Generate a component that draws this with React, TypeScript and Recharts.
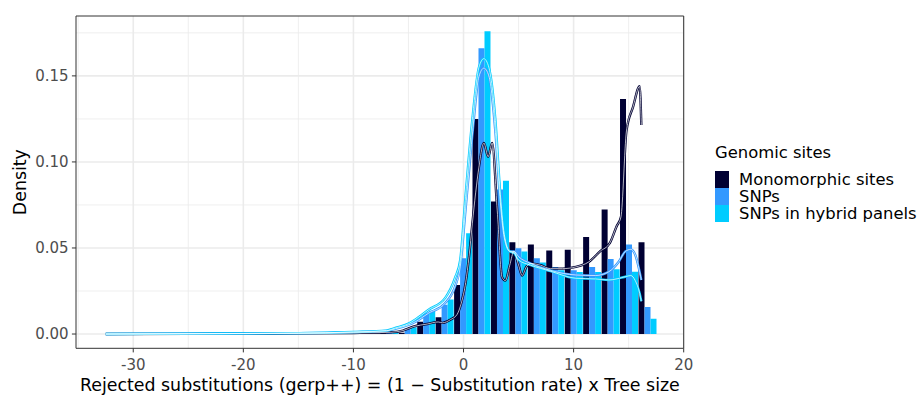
import {
  ComposedChart,
  Bar,
  Line,
  XAxis,
  YAxis,
  CartesianGrid,
  ReferenceArea,
  Legend
} from 'recharts'

const FONT = '"DejaVu Sans", "Liberation Sans", Arial, sans-serif'

// histogram bins (bin centres, width ~1.675)
const binCenters = [-8.40, -6.72, -5.05, -3.37, -1.70, -0.02, 1.65, 3.33, 5.00, 6.68, 8.35, 10.03, 11.70, 13.38, 15.05, 16.73]
const monoHist = [0.0004, 0.0004, 0.0008, 0.0072, 0.0097, 0.0285, 0.125, 0.077, 0.0533, 0.052, 0.0486, 0.049, 0.0564, 0.0723, 0.1365, 0.0533]
const snpHist = [0.0002, 0.001, 0.003, 0.012, 0.017, 0.044, 0.166, 0.084, 0.0498, 0.044, 0.039, 0.037, 0.039, 0.0436, 0.052, 0.0157]
const hybridHist = [0.0002, 0.001, 0.004, 0.0135, 0.020, 0.0585, 0.176, 0.089, 0.0479, 0.0415, 0.037, 0.036, 0.036, 0.0376, 0.0362, 0.0089]

// density curves
const monoDensX = [-32.5, -25, -20, -15, -10, -6.6, -5.5, -4.5, -3.3, -2.3, -1.9, -1.2, -0.6, -0.2, 0.2, 0.5, 0.8, 1.1, 1.4, 1.85, 2.24, 2.6, 3.06, 3.5, 3.8, 4.2, 4.58, 5.0, 5.33, 5.7, 6.1, 7.0, 7.9, 9.0, 10.2, 11.4, 12.4, 13.3, 13.9, 14.3, 14.8, 15.4, 16.0, 16.15]
const monoDensY = [0, 0.0001, 0.0002, 0.0004, 0.0006, 0.001, 0.002, 0.0044, 0.0058, 0.007, 0.0065, 0.0083, 0.0112, 0.018, 0.030, 0.045, 0.064, 0.082, 0.097, 0.111, 0.103, 0.111, 0.072, 0.033, 0.031, 0.040, 0.048, 0.040, 0.034, 0.039, 0.041, 0.040, 0.038, 0.038, 0.039, 0.042, 0.048, 0.053, 0.0625, 0.068, 0.118, 0.132, 0.144, 0.1215]
const snpDensX = [-32.5, -25, -15, -10, -7, -6.2, -4.4, -3.2, -1.66, -0.75, -0.3, 0.18, 0.79, 1.4, 1.85, 2.3, 2.9, 3.3, 3.7, 4.2, 4.6, 5.0, 6.1, 7.9, 10.2, 12, 13.2, 14.1, 14.7, 15.2, 15.6, 16.15]
const snpDensY = [0, 0.0002, 0.0005, 0.0011, 0.0018, 0.003, 0.007, 0.012, 0.018, 0.028, 0.039, 0.072, 0.115, 0.1496, 0.1545, 0.150, 0.117, 0.080, 0.056, 0.048, 0.048, 0.045, 0.041, 0.037, 0.0343, 0.034, 0.0362, 0.042, 0.048, 0.0492, 0.046, 0.0314]
const hybridDensX = [-32.5, -25, -15, -10, -7, -6.2, -5, -4.4, -3.2, -1.66, -0.75, -0.3, 0.18, 0.79, 1.4, 1.85, 2.3, 2.9, 3.3, 3.7, 4.2, 4.6, 5.0, 6.1, 7.9, 10.2, 12, 13.2, 14.7, 15.2, 15.6, 16.0, 16.15]
const hybridDensY = [0, 0.0002, 0.0005, 0.0012, 0.002, 0.0035, 0.006, 0.0083, 0.014, 0.021, 0.033, 0.043, 0.080, 0.124, 0.155, 0.160, 0.155, 0.124, 0.085, 0.058, 0.048, 0.047, 0.043, 0.040, 0.0365, 0.0324, 0.032, 0.0314, 0.0333, 0.034, 0.031, 0.0237, 0.019]

const seriesNames = ['Monomorphic sites', 'SNPs', 'SNPs in hybrid panels']
const seriesColors = ['#000033', '#3399FF', '#00CCFF']

const xTicks = [-30, -20, -10, 0, 10, 20]
const xMinor = [-35, -25, -15, -5, 5, 15]
const yTicks = [0, 0.05, 0.1, 0.15]
const yMinor = [0.025, 0.075, 0.125, 0.175]
const xDomain = [-35.2, 20]
const yDomain = [-0.0083, 0.1848]

const histData = binCenters.map((x, i) => ({
  x,
  mono: monoHist[i],
  snp: snpHist[i],
  hybrid: hybridHist[i],
}))

const toCurve = (xs: number[], ys: number[]) => xs.map((x, i) => ({ x, y: ys[i] }))
const curves = [
  toCurve(monoDensX, monoDensY),
  toCurve(snpDensX, snpDensY),
  toCurve(hybridDensX, hybridDensY),
]

function GenomicLegend() {
  return (
    <div style={{ fontFamily: FONT, color: '#000' }}>
      <div style={{ fontSize: 16.4, lineHeight: '20px', marginBottom: 8 }}>Genomic sites</div>
      {seriesNames.map((name, i) => (
        <div key={name} style={{ display: 'flex', alignItems: 'center', height: 17 }}>
          <span style={{ display: 'inline-block', width: 14, height: 17, background: seriesColors[i] }} />
          <span style={{ marginLeft: 10, fontSize: 16.4, lineHeight: '17px', whiteSpace: 'nowrap' }}>{name}</span>
        </div>
      ))}
    </div>
  )
}

export default function App() {
  const tickStyle = { fill: '#4D4D4D', fontSize: 15, fontFamily: FONT }

  return (
    <div style={{ position: 'absolute', left: 0, top: 0, width: 921, height: 396, background: '#fff' }}>
      <ComposedChart
        width={921}
        height={396}
        data={histData}
        margin={{ top: 16, right: 237.3, bottom: 0, left: 0 }}
        barGap={0}
        barCategoryGap={0}
      >
        <CartesianGrid
          horizontalValues={yMinor}
          verticalValues={xMinor}
          stroke="#EBEBEB"
          strokeWidth={0.8}
        />
        <CartesianGrid
          horizontalValues={yTicks}
          verticalValues={xTicks}
          stroke="#EBEBEB"
          strokeWidth={1.6}
        />
        <XAxis
          dataKey="x"
          type="number"
          domain={xDomain}
          ticks={xTicks}
          allowDataOverflow
          height={47.7}
          axisLine={false}
          tickLine={{ stroke: '#333333' }}
          tickSize={4.1}
          tickMargin={7}
          tick={tickStyle}
          label={{
            value: 'Rejected substitutions (gerp++) = (1 \u2212 Substitution rate) x Tree size',
            position: 'insideBottom',
            offset: 5,
            style: { fontSize: 17.4, fill: '#000', fontFamily: FONT },
          }}
        />
        <XAxis xAxisId="dens" dataKey="x" type="number" domain={xDomain} allowDataOverflow hide />
        <YAxis
          type="number"
          domain={yDomain}
          ticks={yTicks}
          allowDataOverflow
          width={76}
          axisLine={false}
          tickLine={{ stroke: '#333333' }}
          tickSize={4.1}
          tickMargin={3.3}
          tick={tickStyle}
          tickFormatter={(v: number) => v.toFixed(2)}
          label={{
            value: 'Density',
            angle: -90,
            position: 'insideLeft',
            offset: 19.5,
            style: { fontSize: 17.4, fill: '#000', fontFamily: FONT, textAnchor: 'middle' },
          }}
        />
        <Bar dataKey="mono" fill={seriesColors[0]} isAnimationActive={false} />
        <Bar dataKey="snp" fill={seriesColors[1]} isAnimationActive={false} />
        <Bar dataKey="hybrid" fill={seriesColors[2]} isAnimationActive={false} />
        {curves.map((c, i) => (
          <Line
            key={'c' + i}
            xAxisId="dens"
            data={c}
            dataKey="y"
            type="monotone"
            stroke={seriesColors[i]}
            strokeWidth={2.4}
            dot={false}
            activeDot={false}
            legendType="none"
            isAnimationActive={false}
          />
        ))}
        {curves.map((c, i) => (
          <Line
            key={'w' + i}
            xAxisId="dens"
            data={c}
            dataKey="y"
            type="monotone"
            stroke="#FFFFFF"
            strokeWidth={0.7}
            dot={false}
            activeDot={false}
            legendType="none"
            isAnimationActive={false}
          />
        ))}
        <ReferenceArea
          x1={xDomain[0]}
          x2={xDomain[1]}
          y1={yDomain[0]}
          y2={yDomain[1]}
          fill="none"
          stroke="#333333"
          strokeWidth={1}
          ifOverflow="visible"
        />
        <Legend
          layout="horizontal"
          verticalAlign="middle"
          align="center"
          content={() => <GenomicLegend />}
          wrapperStyle={{ left: 715, top: 143, width: 'auto' }}
        />
      </ComposedChart>
    </div>
  )
}
